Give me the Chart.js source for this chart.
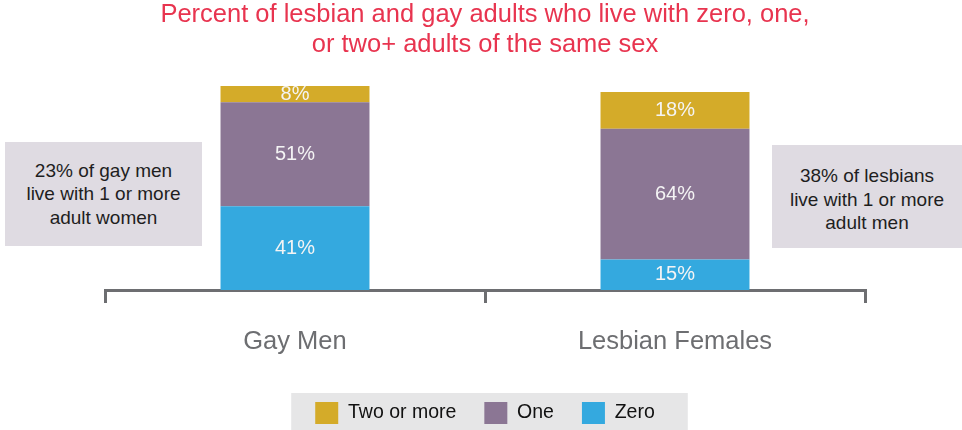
<!DOCTYPE html>
<html>
<head>
<meta charset="utf-8">
<script src="https://cdn.jsdelivr.net/npm/chart.js@4/dist/chart.umd.min.js"></script>
<style>
  body { margin: 0; background: #fff; }
  #wrap { position: relative; width: 962px; height: 430px; }
  .note {
    position: absolute;
    background: #dfdbe2;
    color: #1e1e1e;
    font: 19px "Liberation Sans", Arial, sans-serif;
    line-height: 23.5px;
    text-align: center;
    display: flex;
    align-items: center;
    justify-content: center;
  }
</style>
</head>
<body>
<div id="wrap">
  <canvas id="chart"></canvas>
  <div class="note" style="left:5px; top:142px; width:197px; height:104px;">23% of gay men<br>live with 1 or more<br>adult women</div>
  <div class="note" style="left:772px; top:145px; width:190px; height:103px; padding-top:6px; box-sizing:border-box;">38% of lesbians<br>live with 1 or more<br>adult men</div>
</div>
<script>
const categories = ['Gay Men', 'Lesbian Females'];
const zeroPct = [41, 15];
const onePct = [51, 64];
const twoPlusPct = [8, 18];

const axisGray = '#6d6e71';

// legend gets a grey panel behind it
const legendPanel = {
    id: 'legendPanel',
    beforeDraw(chart) {
        const boxes = chart.legend.legendHitBoxes;
        if (!boxes || !boxes.length) return;
        const ctx = chart.ctx;
        let l = Infinity, r = -Infinity;
        boxes.forEach(b => { l = Math.min(l, b.left); r = Math.max(r, b.left + b.width); });
        ctx.save();
        ctx.fillStyle = '#e6e6e7';
        ctx.fillRect(l - 24, boxes[0].top - 9, (r + 33) - (l - 24), chart.height - boxes[0].top + 9);
        ctx.restore();
    }
};

// percentage text in the middle of every segment
const segLabels = {
    id: 'segLabels',
    afterDatasetsDraw(chart) {
        const ctx = chart.ctx;
        ctx.save();
        ctx.font = '20px "Liberation Sans", Arial, sans-serif';
        ctx.fillStyle = '#f4f4f4';
        ctx.textAlign = 'center';
        ctx.textBaseline = 'middle';
        chart.data.datasets.forEach((ds, i) => {
            chart.getDatasetMeta(i).data.forEach((bar, j) => {
                ctx.fillText(ds.data[j] + '%', bar.x, (bar.y + bar.base) / 2);
            });
        });
        ctx.restore();
    }
};

Chart.defaults.font.family = '"Liberation Sans", Arial, sans-serif';

new Chart(document.getElementById('chart'), {
    type: 'bar',
    data: {
        labels: categories,
        datasets: [
            { label: 'Zero', data: zeroPct, backgroundColor: '#34a9df' },
            { label: 'One', data: onePct, backgroundColor: '#8b7694' },
            { label: 'Two or more', data: twoPlusPct, backgroundColor: '#d4ab29' }
        ]
    },
    options: {
        responsive: true,
        maintainAspectRatio: false,
        animation: false,
        layout: { padding: { left: 105, right: 97, top: 0, bottom: -4 } },
        datasets: {
            bar: { barPercentage: 1, categoryPercentage: 0.392 }
        },
        scales: {
            x: {
                stacked: true,
                grid: {
                    offset: true,
                    drawOnChartArea: false,
                    drawTicks: true,
                    tickLength: 13,
                    color: axisGray,
                    lineWidth: 3
                },
                border: { display: true, color: axisGray, width: 3 },
                ticks: {
                    color: axisGray,
                    padding: 24,
                    font: { size: 25.5 }
                },
                afterFit(scale) { scale.height = 84; }
            },
            y: {
                stacked: true,
                display: false,
                min: 0,
                max: 100
            }
        },
        plugins: {
            title: {
                display: true,
                text: ['Percent of lesbian and gay adults who live with zero, one,', 'or two+ adults of the same sex'],
                color: '#e8344f',
                font: { size: 25.5, weight: 'normal', lineHeight: '30px' },
                padding: { top: 0, bottom: 26 }
            },
            legend: {
                position: 'bottom',
                reverse: true,
                labels: {
                    boxWidth: 23,
                    boxHeight: 22,
                    padding: 28,
                    color: '#111',
                    font: { size: 19.5, lineHeight: '22px' }
                }
            },
            tooltip: { enabled: false }
        }
    },
    plugins: [legendPanel, segLabels]
});
</script>
</body>
</html>
